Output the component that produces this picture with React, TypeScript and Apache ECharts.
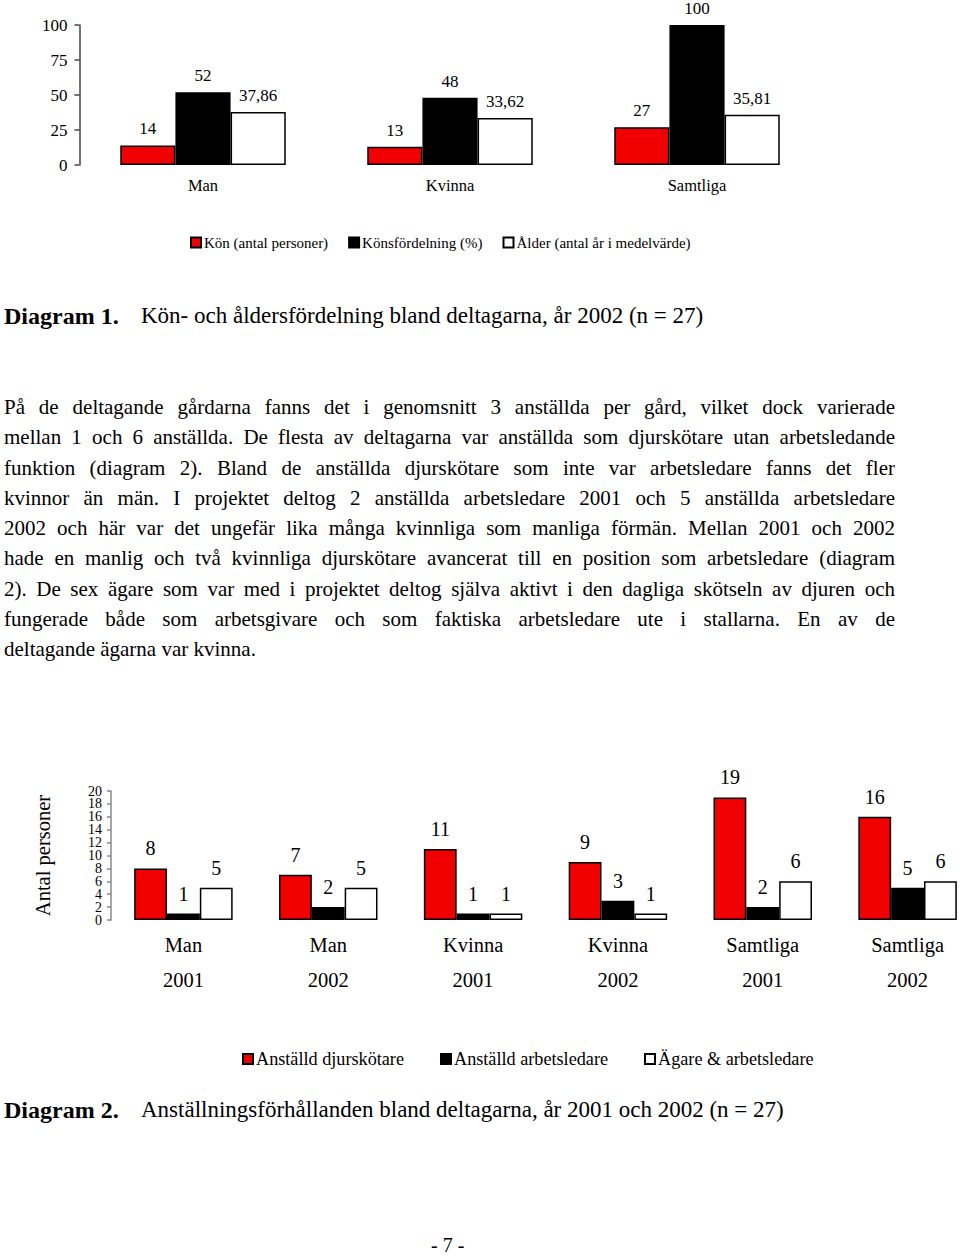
import React, { useEffect, useRef } from "react";
import * as echarts from "echarts";

const FONT = '"Liberation Serif", "Times New Roman", serif';

// Diagram 1
const cats1 = ["Man", "Kvinna", "Samtliga"];
const kon = [14, 13, 27];
const konsfordelning = [52, 48, 100];
const alder = [37.86, 33.62, 35.81];
const names1 = ["Kön (antal personer)", "Könsfördelning (%)", "Ålder (antal år i medelvärde)"];

// Diagram 2
const cats2 = ["Man\n2001", "Man\n2002", "Kvinna\n2001", "Kvinna\n2002", "Samtliga\n2001", "Samtliga\n2002"];
const djurskotare = [8, 7, 11, 9, 19, 16];
const arbetsledare = [1, 2, 1, 3, 2, 5];
const agare = [5, 5, 1, 1, 6, 6];
const names2 = ["Anställd djurskötare", "Anställd arbetsledare", "Ägare & arbetsledare"];
const ticks2 = ["0", "2", "4", "6", "8", "10", "12", "14", "16", "18", "20"];

const paragraph = [
  "På de deltagande gårdarna fanns det i genomsnitt 3 anställda per gård, vilket dock varierade",
  "mellan 1 och 6 anställda. De flesta av deltagarna var anställda som djurskötare utan arbetsledande",
  "funktion (diagram 2). Bland de anställda djurskötare som inte var arbetsledare fanns det fler",
  "kvinnor än män. I projektet deltog 2 anställda arbetsledare 2001 och 5 anställda arbetsledare",
  "2002 och här var det ungefär lika många kvinnliga som manliga förmän. Mellan 2001 och 2002",
  "hade en manlig och två kvinnliga djurskötare avancerat till en position som arbetsledare (diagram",
  "2). De sex ägare som var med i projektet deltog själva aktivt i den dagliga skötseln av djuren och",
  "fungerade både som arbetsgivare och som faktiska arbetsledare ute i stallarna. En av de",
  "deltagande ägarna var kvinna.",
];

const COLORS = ["#f00000", "#000000", "#ffffff"];

const fmt = (p: any) => String(p.value).replace(".", ",");

export default function App() {
  const ref = useRef<HTMLDivElement>(null);
  useEffect(() => {
    if (!ref.current) return;
    const chart = echarts.init(ref.current, null, { renderer: "svg" });
    const mkSeries = (
      name: string,
      data: number[],
      color: string,
      idx: number,
      fontSize: number,
      distance: number
    ) => ({
      name,
      type: "bar",
      xAxisIndex: idx,
      yAxisIndex: idx,
      data,
      barGap: "0%",
      barCategoryGap: idx === 0 ? "33%" : "32%",
      itemStyle: { color, borderColor: "#000", borderWidth: 1.5 },
      label: {
        show: true,
        position: "top",
        distance,
        formatter: fmt,
        fontFamily: FONT,
        fontSize,
        color: "#000",
      },
    });
    chart.setOption({
      animation: false,
      textStyle: { fontFamily: FONT },
      grid: [
        { left: 79.5, width: 741, top: 25, height: 140 },
        { left: 111, width: 869, top: 791, height: 129 },
      ],
      xAxis: [
        {
          gridIndex: 0,
          type: "category",
          data: cats1,
          axisLine: { show: false },
          axisTick: { show: false },
          axisLabel: { fontFamily: FONT, fontSize: 16.5, color: "#000", margin: 12 },
        },
        {
          gridIndex: 1,
          type: "category",
          data: cats2,
          axisLine: { show: false },
          axisTick: { show: false },
          axisLabel: { fontFamily: FONT, fontSize: 20.5, lineHeight: 35, color: "#000", margin: 7 },
        },
      ],
      yAxis: [
        {
          gridIndex: 0,
          type: "value",
          min: 0,
          max: 100,
          interval: 25,
          splitLine: { show: false },
          axisLine: { show: true, lineStyle: { color: "#444", width: 1.5 } },
          axisTick: { show: true, length: 5, lineStyle: { color: "#444", width: 1.5 } },
          axisLabel: { fontFamily: FONT, fontSize: 17, color: "#000", margin: 12 },
        },
        {
          gridIndex: 1,
          type: "value",
          position: "left",
          min: 0,
          max: 20,
          interval: 2,
          name: "Antal personer",
          nameLocation: "middle",
          nameGap: 58,
          nameTextStyle: { fontFamily: FONT, fontSize: 20.5, color: "#000" },
          splitLine: { show: false },
          axisLine: { show: true, lineStyle: { color: "#888", width: 1.5 } },
          axisTick: { show: true, length: 4, lineStyle: { color: "#888", width: 1.5 } },
          axisLabel: { show: false },
        },
        {
          gridIndex: 1,
          type: "category",
          position: "left",
          data: ticks2,
          boundaryGap: false,
          splitLine: { show: false },
          axisLine: { show: false },
          axisTick: { show: false },
          axisLabel: {
            interval: 0,
            fontFamily: FONT,
            fontSize: 14,
            color: "#000",
            margin: 9,
          },
        },
      ],
      legend: [
        {
          data: names1,
          left: 190,
          top: 235,
          icon: "rect",
          itemWidth: 10,
          itemHeight: 10,
          itemGap: 20,
          padding: 0,
          textStyle: { fontFamily: FONT, fontSize: 15, color: "#000", padding: [0, 0, 0, -2] },
        },
        {
          data: names2,
          left: 242,
          top: 1050,
          icon: "rect",
          itemWidth: 10,
          itemHeight: 10,
          itemGap: 36,
          padding: 0,
          textStyle: { fontFamily: FONT, fontSize: 18.2, color: "#000", padding: [0, 0, 0, -2] },
        },
      ],
      series: [
        mkSeries(names1[0], kon, COLORS[0], 0, 17, 8),
        mkSeries(names1[1], konsfordelning, COLORS[1], 0, 17, 8),
        mkSeries(names1[2], alder, COLORS[2], 0, 17, 8),
        mkSeries(names2[0], djurskotare, COLORS[0], 1, 20, 10),
        mkSeries(names2[1], arbetsledare, COLORS[1], 1, 20, 10),
        mkSeries(names2[2], agare, COLORS[2], 1, 20, 10),
      ],
      graphic: [
        {
          type: "text",
          left: 4,
          top: 304,
          style: { text: "Diagram 1.", font: `bold 24px ${FONT}`, fill: "#000" },
        },
        {
          type: "text",
          left: 141,
          top: 304,
          style: {
            text: "Kön- och åldersfördelning bland deltagarna, år 2002 (n = 27)",
            font: `23px ${FONT}`,
            fill: "#000",
          },
        },
        {
          type: "text",
          left: 4,
          top: 1098,
          style: { text: "Diagram 2.", font: `bold 24px ${FONT}`, fill: "#000" },
        },
        {
          type: "text",
          left: 141,
          top: 1098,
          style: {
            text: "Anställningsförhållanden bland deltagarna, år 2001 och 2002 (n = 27)",
            font: `23px ${FONT}`,
            fill: "#000",
          },
        },
        {
          type: "text",
          left: 431,
          top: 1235,
          style: { text: "- 7 -", font: `20px ${FONT}`, fill: "#000" },
        },
      ],
    });
    return () => chart.dispose();
  }, []);

  return (
    <div
      style={{
        position: "absolute",
        left: 0,
        top: 0,
        width: 960,
        height: 1258,
        background: "#fff",
        overflow: "hidden",
      }}
    >
      <div ref={ref} style={{ position: "absolute", left: 0, top: 0, width: 1000, height: 1258 }} />
      {paragraph.map((line, i) => (
        <div
          key={i}
          style={{
            position: "absolute",
            left: 4,
            top: 392 + i * 30.25,
            width: 891,
            height: 30,
            lineHeight: "30px",
            fontFamily: FONT,
            fontSize: 21,
            color: "#000",
            textAlign: "justify",
            textAlignLast: i === paragraph.length - 1 ? "left" : "justify",
            overflow: "visible",
          }}
        >
          {line}
        </div>
      ))}
    </div>
  );
}
